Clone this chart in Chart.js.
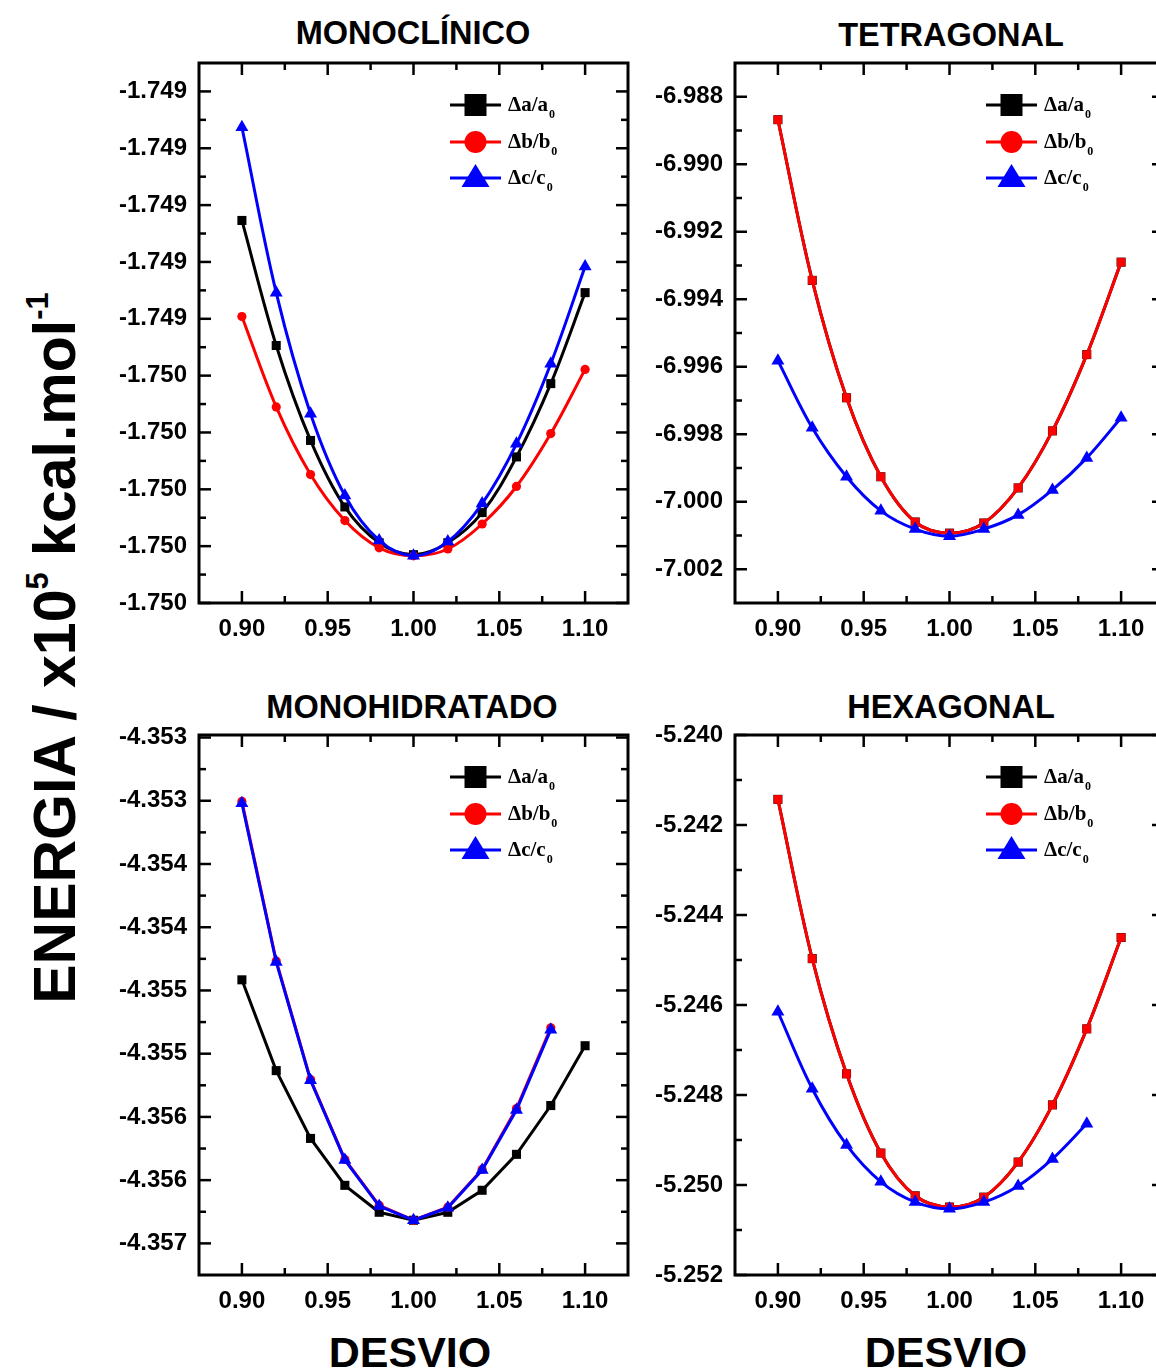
<!DOCTYPE html>
<html>
<head>
<meta charset="utf-8">
<script src="https://cdn.jsdelivr.net/npm/chart.js@4.4.1/dist/chart.umd.min.js"></script>
<style>
  html, body { margin: 0; padding: 0; background: #fff; }
  #page { position: relative; width: 1156px; height: 1369px; overflow: hidden; font-family: "Liberation Sans", Arial, sans-serif; color: #000; }
  #page canvas { position: absolute; }
  .title { position: absolute; font-weight: bold; font-size: 32.5px; line-height: 1; white-space: nowrap; transform: translate(-50%, -50%); }
  .xtitle { position: absolute; font-weight: bold; font-size: 43px; line-height: 1; white-space: nowrap; transform: translate(-50%, -50%); }
  #ytitle { position: absolute; left: 53px; top: 648px; font-weight: bold; font-size: 59px; line-height: 1; white-space: nowrap; transform: translate(-50%, -50%) rotate(-90deg); }
  #ytitle sup { font-size: 31px; vertical-align: 27px; }
</style>
</head>
<body>
<div id="page">
  <div class="title" style="left:413px; top:33px;">MONOCLÍNICO</div>
  <div class="title" style="left:951px; top:35px;">TETRAGONAL</div>
  <div class="title" style="left:412px; top:707px;">MONOHIDRATADO</div>
  <div class="title" style="left:951px; top:707px;">HEXAGONAL</div>
  <div class="xtitle" style="left:410px; top:1352px;">DESVIO</div>
  <div class="xtitle" style="left:946px; top:1352px;">DESVIO</div>
  <div id="ytitle">ENERGIA / x10<sup>5</sup> kcal.mol<sup>-1</sup></div>
</div>
<script>
const desvio = [0.90, 0.92, 0.94, 0.96, 0.98, 1.00, 1.02, 1.04, 1.06, 1.08, 1.10];
const xTicks = [0.90, 0.95, 1.00, 1.05, 1.10];

// monoclinico
const monoA = [-1.749227, -1.749447, -1.749614, -1.749731, -1.749794, -1.749815, -1.749794, -1.749741, -1.749643, -1.749514, -1.749354];
const monoB = [-1.749396, -1.749555, -1.749674, -1.749755, -1.749803, -1.749817, -1.749805, -1.749761, -1.749695, -1.749602, -1.749489];
const monoC = [-1.749063, -1.749354, -1.749567, -1.749711, -1.749790, -1.749817, -1.749792, -1.749725, -1.749620, -1.749479, -1.749308];
const monoTicks = [-1.7490, -1.7491, -1.7492, -1.7493, -1.7494, -1.7495, -1.7496, -1.7497, -1.7498, -1.7499];
const monoLabels = ["-1.749", "-1.749", "-1.749", "-1.749", "-1.749", "-1.750", "-1.750", "-1.750", "-1.750", "-1.750"];

// tetragonal
const tetraA = [-6.98868, -6.99344, -6.99692, -6.99926, -7.00060, -7.00093, -7.00063, -6.99959, -6.99790, -6.99564, -6.99290];
const tetraB = [-6.98868, -6.99344, -6.99692, -6.99926, -7.00060, -7.00093, -7.00063, -6.99959, -6.99790, -6.99564, -6.99290];
const tetraC = [-6.99582, -6.99781, -6.99926, -7.00027, -7.00081, -7.00102, -7.00081, -7.00039, -6.99965, -6.99870, -6.99751];
const tetraTicks = [-6.988, -6.990, -6.992, -6.994, -6.996, -6.998, -7.000, -7.002];
const tetraLabels = ["-6.988", "-6.990", "-6.992", "-6.994", "-6.996", "-6.998", "-7.000", "-7.002"];

// monohidratado
const hidraA = [-4.354916, -4.355634, -4.356170, -4.356541, -4.356754, -4.356817, -4.356754, -4.356580, -4.356296, -4.355910, -4.355437];
const hidraB = [-4.353505, -4.354767, -4.355705, -4.356336, -4.356699, -4.356817, -4.356714, -4.356415, -4.355934, -4.355295];
const hidraC = [-4.353520, -4.354775, -4.355710, -4.356340, -4.356705, -4.356817, -4.356718, -4.356420, -4.355945, -4.355310];
const hidraTicks = [-4.3530, -4.3535, -4.3540, -4.3545, -4.3550, -4.3555, -4.3560, -4.3565, -4.3570];
const hidraLabels = ["-4.353", "-4.353", "-4.354", "-4.354", "-4.355", "-4.355", "-4.356", "-4.356", "-4.357"];

// hexagonal
const hexaA = [-5.24143, -5.24497, -5.24753, -5.24929, -5.25024, -5.25049, -5.25027, -5.24949, -5.24822, -5.24653, -5.24450];
const hexaB = [-5.24143, -5.24497, -5.24753, -5.24929, -5.25024, -5.25049, -5.25027, -5.24949, -5.24822, -5.24653, -5.24450];
const hexaC = [-5.24615, -5.24786, -5.24911, -5.24993, -5.25038, -5.25053, -5.25038, -5.25002, -5.24942, -5.24864];
const hexaTicks = [-5.240, -5.242, -5.244, -5.246, -5.248, -5.250, -5.252];
const hexaLabels = ["-5.240", "-5.242", "-5.244", "-5.246", "-5.248", "-5.250", "-5.252"];

const legendNames = [["Δa/a", "0"], ["Δb/b", "0"], ["Δc/c", "0"]];
const colors = ["#000000", "#ff0000", "#0000ff"];

const page = document.getElementById("page");
const tickFont = { family: "'Liberation Sans', Arial, sans-serif", size: 24, weight: "bold" };
const PAD_TOP = 30;

function points(vals) {
  return vals.map((v, i) => ({ x: desvio[i], y: v }));
}

function minorsOf(ticks, min, max) {
  const out = [];
  const step = ticks[1] - ticks[0];
  for (let i = 0; i < ticks.length - 1; i++) out.push((ticks[i] + ticks[i + 1]) / 2);
  const before = ticks[0] - step / 2;
  const after = ticks[ticks.length - 1] + step / 2;
  [before, after].forEach((v) => {
    if (v > min + 1e-9 && v < max - 1e-9) out.push(v);
  });
  return out;
}

const frame = {
  id: "frame",
  afterDraw(chart) {
    const { ctx, chartArea: a, scales: { x, y } } = chart;
    const yMinor = chart.options.plugins.frame.yMinor;
    ctx.save();
    ctx.strokeStyle = "#000";
    ctx.lineWidth = 2.5;
    ctx.lineCap = "butt";
    const seg = (x1, y1, x2, y2) => { ctx.beginPath(); ctx.moveTo(x1, y1); ctx.lineTo(x2, y2); ctx.stroke(); };
    xTicks.forEach((v) => {
      const px = x.getPixelForValue(v);
      seg(px, a.bottom, px, a.bottom - 12);
      seg(px, a.top, px, a.top + 12);
    });
    xTicks.slice(0, -1).forEach((v) => {
      const px = x.getPixelForValue(v + 0.025);
      seg(px, a.bottom, px, a.bottom - 7);
      seg(px, a.top, px, a.top + 7);
    });
    y.ticks.forEach((t) => {
      const py = y.getPixelForValue(t.value);
      seg(a.left, py, a.left + 12, py);
      seg(a.right, py, a.right - 12, py);
    });
    yMinor.forEach((v) => {
      const py = y.getPixelForValue(v);
      seg(a.left, py, a.left + 7, py);
      seg(a.right, py, a.right - 7, py);
    });
    ctx.lineWidth = 3;
    ctx.strokeRect(a.left, a.top, a.right - a.left, a.bottom - a.top);
    ctx.restore();
  }
};

const legendBox = {
  id: "legendBox",
  afterDraw(chart) {
    const { ctx, chartArea: a } = chart;
    const x0 = a.right - 178;
    const rows = [42, 79, 115];
    ctx.save();
    legendNames.forEach((name, i) => {
      const yy = a.top + rows[i];
      ctx.strokeStyle = colors[i];
      ctx.fillStyle = colors[i];
      ctx.lineWidth = 3;
      ctx.beginPath(); ctx.moveTo(x0, yy); ctx.lineTo(x0 + 51, yy); ctx.stroke();
      const cx = x0 + 25.5;
      ctx.beginPath();
      if (i === 0) ctx.rect(cx - 11, yy - 11, 22, 22);
      else if (i === 1) ctx.arc(cx, yy, 11, 0, Math.PI * 2);
      else { ctx.moveTo(cx, yy - 14); ctx.lineTo(cx + 14, yy + 9); ctx.lineTo(cx - 14, yy + 9); ctx.closePath(); }
      ctx.fill();
      ctx.fillStyle = "#000";
      ctx.textBaseline = "middle";
      ctx.font = "bold 21px 'Liberation Serif', 'Times New Roman', serif";
      ctx.fillText(name[0], x0 + 58, yy + 1);
      const w = ctx.measureText(name[0]).width;
      ctx.font = "bold 12px 'Liberation Serif', 'Times New Roman', serif";
      ctx.fillText(name[1], x0 + 58 + w + 1, yy + 10);
    });
    ctx.restore();
  }
};

function makePanel(p) {
  const canvas = document.createElement("canvas");
  const h = PAD_TOP + 540 + 47;
  canvas.width = 550;
  canvas.height = h;
  canvas.style.left = p.left + "px";
  canvas.style.top = (p.boxTop - PAD_TOP) + "px";
  canvas.style.width = "550px";
  canvas.style.height = h + "px";
  page.appendChild(canvas);

  const styles = [
    { style: "rect", radius: 6.4, order: 2 },
    { style: p.redSquare ? "rect" : "circle", radius: p.redSquare ? 6 : 4.6, order: 1 },
    { style: "triangle", radius: 7.5, order: 0 }
  ];

  const datasets = p.series.map((vals, i) => ({
    label: legendNames[i].join(""),
    data: points(vals),
    borderColor: colors[i],
    backgroundColor: colors[i],
    pointBackgroundColor: colors[i],
    borderWidth: 3,
    pointStyle: styles[i].style,
    pointRadius: styles[i].radius,
    pointBorderWidth: 0,
    tension: p.tension,
    order: styles[i].order
  }));

  new Chart(canvas, {
    type: "line",
    data: { datasets },
    options: {
      responsive: false,
      animation: false,
      devicePixelRatio: 1,
      layout: { padding: { top: PAD_TOP, right: 22, left: 0, bottom: 0 } },
      plugins: {
        legend: { display: false },
        tooltip: { enabled: false },
        frame: { yMinor: minorsOf(p.ticks, p.min, p.max) }
      },
      scales: {
        x: {
          type: "linear",
          min: 0.875,
          max: 1.125,
          afterBuildTicks: (s) => { s.ticks = xTicks.map((v) => ({ value: v })); },
          afterFit: (s) => { s.height = 47; },
          grid: { display: false, drawTicks: false },
          border: { display: false },
          ticks: { padding: 12, color: "#000", font: tickFont, autoSkip: false, maxRotation: 0, callback: (v) => Number(v).toFixed(2) }
        },
        y: {
          type: "linear",
          min: p.min,
          max: p.max,
          afterBuildTicks: (s) => { s.ticks = p.ticks.map((v) => ({ value: v })); },
          afterFit: (s) => { s.width = 99; },
          grid: { display: false, drawTicks: false },
          border: { display: false },
          ticks: { padding: 12, color: "#000", font: tickFont, autoSkip: false, callback: (v, i) => p.labels[i] }
        }
      }
    },
    plugins: [frame, legendBox]
  });
}

makePanel({ left: 100, boxTop: 63, series: [monoA, monoB, monoC], ticks: monoTicks, labels: monoLabels, min: -1.7499, max: -1.74895, tension: 0.35, redSquare: false });
makePanel({ left: 636, boxTop: 63, series: [tetraA, tetraB, tetraC], ticks: tetraTicks, labels: tetraLabels, min: -7.003, max: -6.987, tension: 0.35, redSquare: true });
makePanel({ left: 100, boxTop: 735, series: [hidraA, hidraB, hidraC], ticks: hidraTicks, labels: hidraLabels, min: -4.35725, max: -4.35298, tension: 0, redSquare: false });
makePanel({ left: 636, boxTop: 735, series: [hexaA, hexaB, hexaC], ticks: hexaTicks, labels: hexaLabels, min: -5.252, max: -5.240, tension: 0.35, redSquare: true });
</script>
</body>
</html>
